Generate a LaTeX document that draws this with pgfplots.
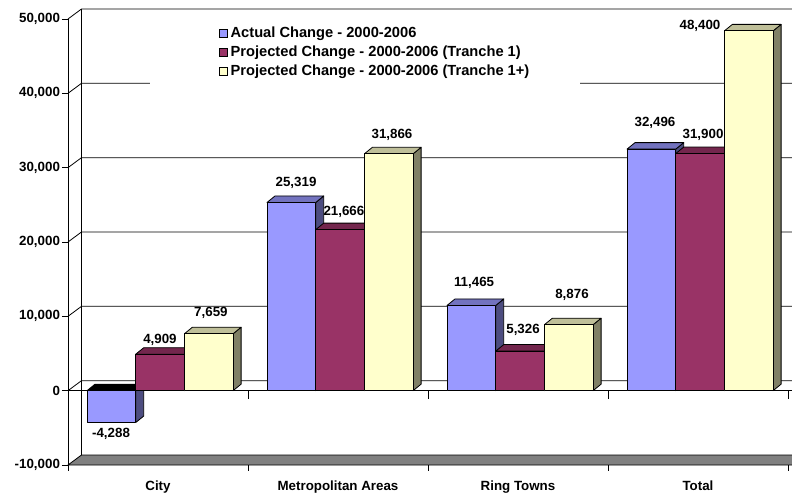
\documentclass[border=0pt]{standalone}
\usepackage{pgfplots}
\pgfplotsset{compat=1.18}
\usepackage{pgfplotstable}
\usepackage{fontspec}
\setmainfont{Liberation Sans}

\definecolor{bfront}{RGB}{153,153,255}
\definecolor{btop}{RGB}{115,115,191}
\definecolor{bside}{RGB}{77,77,128}
\definecolor{mfront}{RGB}{153,51,102}
\definecolor{mtop}{RGB}{115,38,77}
\definecolor{mside}{RGB}{77,26,51}
\definecolor{yfront}{RGB}{255,255,204}
\definecolor{ytop}{RGB}{191,191,153}
\definecolor{yside}{RGB}{128,128,102}
\definecolor{floorgray}{RGB}{128,128,128}

% change 2000-2006, one row per area
\pgfplotstableread{
grp actual tranche tranchep
0 -4288 4909 7659
1 25319 21666 31866
2 11465 5326 8876
3 32496 31900 48400
}\changes

% where the value labels sit
\pgfplotstableread{
lx ly val
-0.261 -5779 -4288
0.011 6854 4909
0.294 10483 7659
0.767 27955 25319
1.033 24058 21666
1.300 34406 31866
1.756 14515 11465
2.028 8198 5326
2.300 12902 8876
2.761 36019 32496
3.028 34406 31900
3.011 49056 48400
}\labelpos

% 3d geometry in axis units
\def\hw{0.1353}\def\dx{0.0444}\def\dy{874}
\def\xmx{3.5222}

\pgfplotsset{bar face/.style={draw=black, line width=0.6pt, line join=round, forget plot}}

\newcommand\fcalc[2]{\begingroup\pgfkeys{/pgf/fpu=true,/pgf/fpu/output format=fixed}%
  \pgfmathparse{#2}\xdef#1{\pgfmathresult}\endgroup}

% #1 group, #2 shift, #3 value, #4 front, #5 top, #6 side
\newcommand\tdbar[6]{%
  \fcalc\xa{#1+#2-\hw}\fcalc\xb{#1+#2+\hw}%
  \fcalc\xc{#1+#2+\hw+\dx}\fcalc\xd{#1+#2-\hw+\dx}%
  \fcalc\yt{max(#3,0)}\fcalc\yb{min(#3,0)}%
  \fcalc\ytd{max(#3,0)+\dy}\fcalc\ybd{min(#3,0)+\dy}%
  \fcalc\isneg{#3<0}%
  \ifdim\isneg pt>0.5pt \def\topcol{black}\else\def\topcol{#5}\fi
  \edef\tmp{%
    \noexpand\addplot[bar face, fill=#6] coordinates {(\xb,\yb) (\xb,\yt) (\xc,\ytd) (\xc,\ybd)} -- cycle;
    \noexpand\addplot[bar face, fill=\topcol] coordinates {(\xa,\yt) (\xb,\yt) (\xc,\ytd) (\xd,\ytd)} -- cycle;
    \noexpand\addplot[bar face, fill=#4] coordinates {(\xa,\yb) (\xb,\yb) (\xb,\yt) (\xa,\yt)} -- cycle;
  }\tmp}

\newcommand\tdseries[5]{%
  \pgfplotsinvokeforeach{0,1,2,3}{%
    \pgfplotstablegetelem{##1}{#1}\of\changes
    \let\val\pgfplotsretval
    \tdbar{##1}{#2}{\val}{#3}{#4}{#5}}}

\newcommand\gridL[2]{\draw[black, line width=0.6pt] (axis cs:-0.5,#1) -- (axis cs:-0.425,#2) -- (axis cs:\xmx,#2);}

\begin{document}
\fontsize{10}{12}\selectfont\bfseries
\begin{tikzpicture}
\begin{axis}[
    scale only axis,
    width=543pt, height=348.75pt,
    xmin=-0.5, xmax=3.5222,
    ymin=-10000, ymax=52554,
    axis line style={draw=none},
    clip=false,
    tick pos=left, tick align=outside,
    major tick length=4.5pt,
    xtick={0,1,2,3},
    xticklabels={City,Metropolitan Areas,Ring Towns,Total},
    xtick style={draw=none},
    x tick label style={yshift=-4pt},
    ytick={-10000,0,10000,20000,30000,40000,50000},
    ytick style={black, line width=0.6pt},
    yticklabel style={xshift=2pt},
    scaled y ticks=false,
    /pgf/number format/1000 sep={,},
    /pgf/number format/assume math mode=true,
    legend style={at={(0.2086,0.949)}, anchor=north west, draw=none, fill=none,
        inner sep=0pt, row sep=1pt, font=\fontsize{11}{13}\selectfont\bfseries},
    legend cell align=left,
    legend image code/.code={\draw[#1] (0pt,-3pt) rectangle (6pt,3pt);},
]
% floor slab
\fill[floorgray] (axis cs:-0.5,-10000) -- (axis cs:\xmx,-10000) -- (axis cs:\xmx,-8655) -- (axis cs:-0.425,-8655) -- cycle;
\draw[black, line width=0.6pt] (axis cs:\xmx,-8655) -- (axis cs:-0.425,-8655) -- (axis cs:-0.5,-10000) -- (axis cs:\xmx,-10000);
% back wall and grid
\draw[black, line width=0.6pt] (axis cs:-0.425,-8655) -- (axis cs:-0.425,51345);
\gridL{0}{1345}
\gridL{10000}{11345}
\gridL{20000}{21345}
\gridL{30000}{31345}
\gridL{40000}{41345}
\gridL{50000}{51345}
\fill[white] (axis cs:-0.0444,40400) rectangle (axis cs:2.344,42300);
% front axes
\draw[black, line width=0.6pt] (axis cs:-0.5,50000) -- ([yshift=-4.5pt]axis cs:-0.5,-10000);
\draw[black, line width=0.6pt] (axis cs:-0.5,0) -- (axis cs:\xmx,0);
\pgfplotsinvokeforeach{0.5,1.5,2.5,3.5}{
  \draw[black, line width=0.6pt] (axis cs:#1,0) -- ([yshift=-6pt]axis cs:#1,0);
  \draw[black, line width=0.6pt] (axis cs:#1,-10000) -- ([yshift=-4.5pt]axis cs:#1,-10000);
}
% bars
\tdseries{actual}{-0.259}{bfront}{btop}{bside}
\tdseries{tranche}{0.0117}{mfront}{mtop}{mside}
\tdseries{tranchep}{0.282}{yfront}{ytop}{yside}
% value labels
\addplot[draw=none, forget plot, nodes near coords, point meta=explicit,
    nodes near coords style={anchor=center}] table[x=lx, y=ly, meta=val] {\labelpos};
\addlegendimage{fill=bfront, draw=black, line width=0.5pt}
\addlegendentry{Actual Change - 2000-2006}
\addlegendimage{fill=mfront, draw=black, line width=0.5pt}
\addlegendentry{Projected Change - 2000-2006 (Tranche 1)}
\addlegendimage{fill=yfront, draw=black, line width=0.5pt}
\addlegendentry{Projected Change - 2000-2006 (Tranche 1+)}
\end{axis}
\pgfresetboundingbox
\path ([shift={(-51pt,-21.75pt)}]current axis.south west) rectangle (current axis.north east);
\end{tikzpicture}
\end{document}
